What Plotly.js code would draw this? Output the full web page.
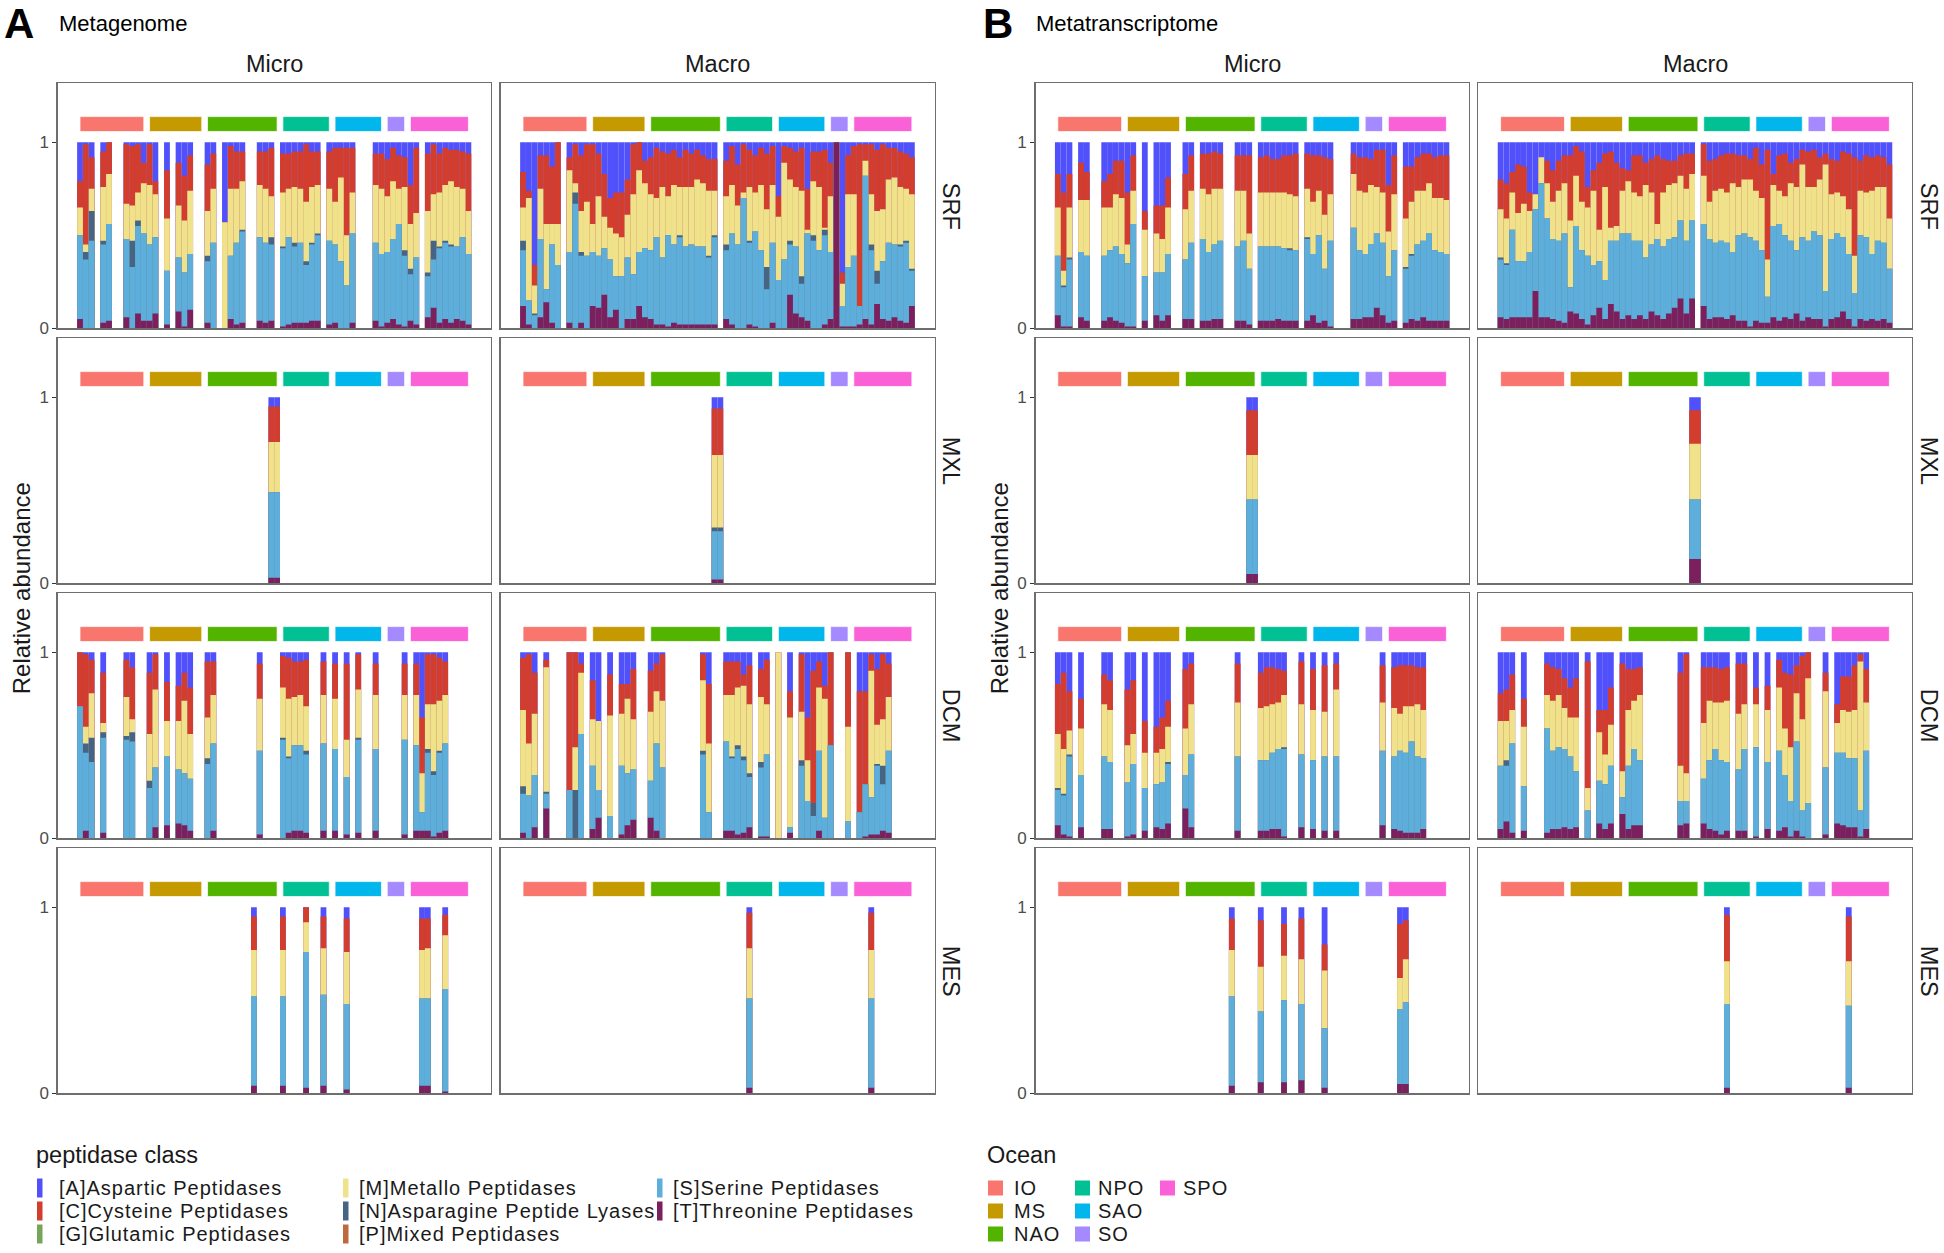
<!DOCTYPE html>
<html><head><meta charset="utf-8">
<script src="https://cdn.plot.ly/plotly-3.0.1.min.js"></script>
<style>html,body{margin:0;padding:0;background:#fff}#chart{width:1944px;height:1253px}</style>
</head><body><div id="chart"></div>
<script>
// ---------- categories ----------
const classNames = ['[A]Aspartic Peptidases','[C]Cysteine Peptidases','[G]Glutamic Peptidases','[M]Metallo Peptidases','[N]Asparagine Peptide Lyases','[P]Mixed Peptidases','[S]Serine Peptidases','[T]Threonine Peptidases'];
const classColors = ['#5151fb','#d23d2d','#77a45b','#efe28b','#466585','#be683e','#5eaedc','#7b1f5d'];
const oceanNames = ['IO','MS','NAO','NPO','SAO','SO','SPO'];
const oceanColors = ['#F8766D','#C49A00','#53B400','#00C094','#00B6EB','#A58AFF','#FB61D7'];
const oceanStart = [0,12,22,35,44,53,57];
const oceanEnd   = [11,21,34,43,52,56,67];
const sizeFractions = ['Micro','Macro'];
const layers = ['SRF','MXL','DCM','MES'];
const yTickVals = [0,1];
const yTickText = ['0','1'];

// Values are cumulative relative abundance (top of T, S, N, M, C; A tops at 1), per sample slot
// ---------- A Metagenome, Micro ----------
const mgMiSRF_x = [0,1,2,4,5,8,9,10,11,12,13,15,17,18,19,22,23,25,26,27,28,31,32,33,35,36,37,38,39,40,41,43,44,45,46,47,51,52,53,54,55,56,57,58,60,61,62,63,64,65,66,67];
const mgMiSRF_C = [.79,.99,.92,.95,1,.99,.98,.99,.89,.99,.79,.85,.89,.82,.93,.88,.94,.57,.98,.95,.95,.95,.95,.97,.94,.94,.95,.95,.99,.95,.95,.95,.97,.97,.97,.97,.94,.94,.91,.97,.93,.92,.77,.97,.94,.99,.94,.97,.96,.96,.95,.94];
const mgMiSRF_M = [.65,.45,.75,.76,.83,.67,.66,.73,.78,.77,.72,.59,.66,.58,.74,.63,.75,.57,.75,.75,.79,.77,.75,.71,.73,.75,.76,.75,.68,.76,.77,.75,.68,.81,.50,.73,.77,.75,.71,.79,.75,.76,.56,.62,.63,.72,.73,.77,.79,.76,.75,.63];
const mgMiSRF_N = [.50,.41,.63,.47,.56,.48,.47,.58,.51,.45,.49,.31,.38,.30,.40,.39,.46,0,.39,.46,.53,.49,.46,.49,.44,.49,.46,.46,.36,.46,.51,.47,.45,.36,.23,.51,.46,.40,.41,.48,.56,.42,.32,.38,.30,.47,.44,.47,.45,.44,.49,.40];
const mgMiSRF_S = [.50,.37,.47,.45,.56,.48,.33,.55,.51,.45,.49,.31,.38,.30,.40,.36,.46,0,.39,.46,.52,.49,.46,.45,.43,.49,.44,.46,.34,.45,.50,.47,.45,.36,.23,.51,.46,.40,.41,.48,.56,.39,.29,.38,.28,.37,.43,.46,.44,.44,.49,.40];
const mgMiSRF_T = [.05,0,0,.03,.04,.06,0,.08,.04,.04,.08,.02,.09,.01,.10,.03,0,0,.05,.02,.03,.04,.03,.04,.01,.02,.03,.03,.03,.04,.04,.02,.03,0,0,.03,.04,.01,.03,.05,.02,.01,.04,.02,.06,.11,.03,.05,.03,.05,.04,.02];

const mgMiMXL_x = [33,34];
const mgMiMXL_C = [.95,.95]; const mgMiMXL_M = [.76,.76]; const mgMiMXL_N = [.49,.49]; const mgMiMXL_S = [.49,.49]; const mgMiMXL_T = [.03,.03];

const mgMiDCM_x = [0,1,2,4,8,9,12,13,15,17,18,19,22,23,31,35,36,37,38,39,42,44,46,48,51,56,58,59,60,61,62,63];
const mgMiDCM_C = [1,.99,.96,.89,.96,.92,.89,.99,.84,.82,.89,.81,.95,.95,.94,.98,.97,.95,.95,.96,.95,.94,.94,.99,.94,.94,.94,.65,.99,.99,.97,.95];
const mgMiDCM_M = [.71,.60,.78,.62,.76,.64,.56,.80,.63,.63,.74,.56,.65,.77,.75,.81,.75,.76,.77,.71,.77,.75,.53,.80,.77,.77,.77,.35,.72,.72,.74,.77];
const mgMiDCM_N = [.71,.51,.54,.57,.55,.57,.31,.38,.44,.37,.35,.32,.43,.51,.47,.54,.44,.50,.50,.47,.51,.48,.33,.54,.48,.53,.50,.14,.48,.36,.47,.51];
const mgMiDCM_S = [.71,.46,.41,.54,.53,.52,.27,.38,.44,.37,.35,.32,.40,.51,.47,.53,.43,.50,.50,.45,.51,.48,.33,.53,.48,.53,.50,.14,.46,.34,.46,.51];
const mgMiDCM_T = [0,.04,0,.03,0,0,0,.06,.07,.08,.07,.04,0,.04,.02,0,.03,.04,.04,.03,.04,.04,.02,.03,.04,.02,.04,.04,.04,.01,.03,.04];

const mgMiMES_x = [30,35,39,42,46,59,60,63];
const mgMiMES_C = [.95,.95,1,.95,.94,.94,.94,.96];
const mgMiMES_M = [.77,.77,.92,.78,.76,.77,.78,.85];
const mgMiMES_N = [.52,.52,.76,.53,.48,.51,.51,.56];
const mgMiMES_S = [.52,.52,.76,.53,.48,.51,.51,.56];
const mgMiMES_T = [.04,.04,.03,.04,.02,.04,.04,.01];

// ---------- A Metagenome, Macro ----------
const mgMaSRF_x = [0,1,2,3,4,5,6,8,9,10,11,12,13,14,15,16,17,18,19,20,21,22,23,24,25,26,27,28,29,30,31,32,33,35,36,37,38,39,40,41,42,43,44,45,46,47,48,49,50,51,52,53,54,55,56,57,58,59,60,61,62,63,64,65,66,67];
const mgMaSRF_C = [.84,.74,.34,.93,.93,.87,1, .92,.99,.93,.99,.99,.94,.83,.70,.73,.73,.80,.99,1,.90,.92,.97,.95,.94,.96,.92,.96,.94,.96,.93,.91,.91, .90,.98,.88,.99,.96,.93,.97,.94,.98,.71,.98,.97,.95,.97,.75,.95,.95,.96,.89,1,.30,.93,.98,.99,.99,.99,.96,.99,.97,.97,.95,.94,.92];
const mgMaSRF_M = [.65,.70,.23,.75,.56,.56,.56, .85,.78,.63,.68,.56,.71,.60,.54,.51,.49,.61,.72,.85,.78,.72,.70,.76,.71,.77,.76,.76,.76,.80,.78,.74,.74, .71,.77,.66,.73,.76,.73,.77,.64,.77,.60,.89,.80,.76,.74,.53,.79,.76,.54,.71,1,.24,.72,.72,.12,.90,.72,.63,.64,.80,.81,.76,.75,.72];
const mgMaSRF_N = [.47,.15,.08,.48,.21,.45,.34, .41,.73,.41,.39,.41,.39,.43,.37,.28,.28,.38,.29,.41,.43,.42,.49,.38,.50,.45,.50,.44,.45,.44,.44,.39,.50, .45,.51,.45,.70,.47,.52,.42,.33,.46,.26,.37,.47,.44,.28,.51,.50,.42,.53,.41,1,.12,.33,.39,.12,.82,.45,.31,.36,.46,.45,.45,.47,.32];
const mgMaSRF_S = [.42,.15,.07,.48,.21,.45,.34, .41,.67,.39,.39,.41,.39,.43,.37,.28,.28,.38,.29,.41,.43,.42,.49,.38,.50,.45,.49,.44,.45,.44,.44,.38,.49, .42,.51,.45,.70,.46,.52,.42,.21,.46,.26,.37,.45,.44,.24,.51,.47,.42,.50,.41,1,.12,.33,.39,.12,.82,.42,.24,.36,.46,.45,.44,.46,.31];
const mgMaSRF_T = [.12,.02,0,.06,.14,.03,0, .03,0,.03,0,.12,.11,.18,.06,.10,0,.05,.05,.12,.06,.05,.02,.02,.01,.03,.02,.02,.02,.02,.02,.02,.02, .05,.02,0,0,.02,.01,0,0,.03,0,0,.18,.08,.06,.04,0,0,.02,.05,1,.01,.01,.01,.02,.05,.02,.13,.05,.04,.06,.04,.03,.12];

const mgMaMXL_x = [33,34];
const mgMaMXL_C = [.94,.94]; const mgMaMXL_M = [.69,.69]; const mgMaMXL_N = [.30,.30]; const mgMaMXL_S = [.28,.28]; const mgMaMXL_T = [.02,.02];

const mgMaDCM_x = [0,1,2,4,8,9,10,12,13,15,17,18,19,22,23,24,31,32,35,36,37,38,39,41,42,44,46,48,49,50,51,52,53,56,58,59,60,61,62,63];
const mgMaDCM_C = [.97,.99,.89,.96,1,1,.94,.85,.63,.88,.83,.83,.91,.90,.94,.99,.99,.83,.95,.95,.95,.88,.93,.91,.96,1,.79,.99,.65,.90,.95,.82,1,1,.79,.79,.99,.91,.99,.94];
const mgMaDCM_M = [.69,.51,.67,.92,.26,.49,.89,.64,.63,.66,.67,.75,.64,.68,.79,.74,.85,.51,.77,.77,.81,.82,.72,.76,.72,1,.65,.68,.42,.19,.81,.75,.50,.60,.14,.29,.90,.61,.64,.76];
const mgMaDCM_N = [.28,.23,.34,.25,.26,.26,.56,.39,.26,.12,.39,.35,.37,.31,.51,.38,.47,.14,.52,.44,.50,.44,.35,.41,.45,0,.06,.42,.20,.19,.47,.11,.50,.09,.14,.29,.22,.40,.39,.47];
const mgMaDCM_S = [.24,.23,.34,.24,.26,0,.56,.39,.26,.12,.39,.35,.37,.31,.51,.38,.45,.14,.52,.43,.48,.42,.33,.38,.45,0,.06,.39,.20,.12,.47,.11,.50,.09,.14,.29,.22,.39,.29,.47];
const mgMaDCM_T = [.03,0,.06,.16,0,0,0,.05,.11,0,.02,.07,.10,.11,.04,0,0,0,.04,.04,.02,.03,.06,.01,.01,0,.03,0,0,0,.04,0,0,0,0,.01,.02,.02,.04,.03];

const mgMaMES_x = [39,60];
const mgMaMES_C = [.97,.97]; const mgMaMES_M = [.78,.77]; const mgMaMES_N = [.51,.51]; const mgMaMES_S = [.51,.51]; const mgMaMES_T = [.03,.03];

// ---------- B Metatranscriptome, Micro ----------
const mtMiSRF_x = [0,1,2,4,5,8,9,10,11,12,13,15,17,18,19,22,23,25,26,27,28,31,32,33,35,36,37,38,39,40,41,43,44,45,46,47,51,52,53,54,55,56,57,58,60,61,62,63,64,65,66,67];
const mtMiSRF_C = [.83,.73,.83,.89,.84,.79,.83,.90,.90,.73,.93,.63,.66,.66,.81,.83,.93,.94,.94,.95,.94,.93,.93,.93,.92,.93,.91,.91,.93,.93,.94,.94,.93,.93,.92,.91,.94,.92,.92,.91,.96,.96,.77,.93,.87,.87,.92,.94,.94,.92,.93,.93];
const mtMiSRF_M = [.65,.31,.65,.69,.69,.65,.65,.72,.70,.45,.74,.53,.51,.48,.65,.64,.74,.75,.72,.75,.75,.74,.74,.51,.73,.73,.73,.73,.73,.72,.71,.75,.68,.74,.61,.72,.83,.74,.73,.77,.76,.73,.52,.72,.59,.68,.74,.74,.78,.70,.70,.69];
const mtMiSRF_N = [.39,.23,.38,.41,.39,.39,.42,.44,.40,.35,.56,.28,.30,.30,.40,.37,.46,.48,.41,.45,.47,.44,.47,.32,.44,.44,.44,.44,.43,.43,.42,.49,.40,.50,.32,.47,.54,.42,.40,.45,.51,.46,.28,.42,.33,.40,.45,.47,.51,.42,.41,.40];
const mtMiSRF_S = [.39,.22,.37,.41,.39,.39,.42,.44,.40,.35,.56,.28,.30,.30,.40,.37,.46,.48,.41,.45,.47,.44,.47,.32,.44,.44,.44,.44,.43,.42,.42,.48,.40,.50,.32,.47,.54,.42,.40,.45,.51,.46,.28,.42,.32,.39,.45,.47,.51,.42,.41,.40];
const mtMiSRF_T = [.07,.01,.01,.06,.04,.04,.06,.04,.03,.01,.01,.04,.07,.04,.07,.05,.05,.04,.04,.05,.05,.04,.04,.02,.04,.04,.04,.05,.04,.04,.04,.04,.07,.03,.04,.01,.05,.05,.06,.06,.11,.07,.03,.04,.03,.05,.04,.06,.04,.04,.04,.04];

const mtMiMXL_x = [33,34];
const mtMiMXL_C = [.93,.93]; const mtMiMXL_M = [.69,.69]; const mtMiMXL_N = [.45,.45]; const mtMiMXL_S = [.45,.45]; const mtMiMXL_T = [.05,.05];

const mtMiDCM_x = [0,1,2,4,8,9,12,13,15,17,18,19,22,23,31,35,36,37,38,39,42,44,46,48,56,58,59,60,61,62,63];
const mtMiDCM_C = [.83,.89,.79,.75,.88,.85,.80,.85,.63,.60,.65,.74,.91,.94,.94,.89,.92,.92,.91,.90,.95,.91,.93,.94,.93,.92,.93,.93,.93,.92,.92];
const mtMiDCM_M = [.56,.48,.58,.59,.72,.69,.50,.56,.46,.46,.48,.60,.59,.72,.73,.70,.71,.72,.73,.77,.72,.69,.68,.80,.73,.70,.67,.71,.71,.72,.69];
const mtMiDCM_N = [.27,.24,.45,.34,.44,.41,.30,.40,.27,.29,.30,.41,.34,.45,.44,.42,.42,.46,.48,.49,.45,.42,.44,.44,.47,.44,.47,.46,.52,.44,.43];
const mtMiDCM_S = [.26,.23,.44,.34,.44,.41,.30,.40,.27,.29,.30,.40,.34,.45,.44,.42,.42,.46,.48,.48,.45,.42,.44,.44,.47,.44,.47,.46,.52,.44,.43];
const mtMiDCM_T = [.07,.02,.01,.06,.05,.05,.01,.02,.04,.06,.05,.08,.16,.06,.04,.04,.04,.05,.05,.01,.06,.05,.04,.04,.07,.05,.04,.03,.03,.03,.05];

const mtMiMES_x = [30,35,39,42,46,59,60];
const mtMiMES_C = [.94,.93,.91,.94,.80,.91,.93];
const mtMiMES_M = [.77,.68,.74,.72,.66,.62,.72];
const mtMiMES_N = [.52,.44,.50,.48,.35,.45,.49];
const mtMiMES_S = [.52,.44,.50,.48,.35,.45,.49];
const mtMiMES_T = [.04,.06,.06,.07,.03,.05,.05];

// ---------- B Metatranscriptome, Macro ----------
const mtMaSRF_x = [0,1,2,3,4,5,6,7,8,9,10,11,12,13,14,15,16,17,18,19,20,21,22,23,24,25,26,27,28,29,30,31,32,33,35,36,37,38,39,40,41,42,43,44,45,46,47,48,49,50,51,52,53,54,55,56,57,58,59,60,61,62,63,64,65,66,67];
const mtMaSRF_C = [.80,.78,.84,.88,.87,.73,.72,.92,.90,.85,.90,.93,.93,.98,.95,.76,.85,.89,.94,.95,.89,.86,.85,.93,.93,.89,.91,.93,.91,.90,.90,.93,.94,.94, .99,.90,.91,.93,.94,.94,.93,.93,.91,.97,.88,.96,.83,.93,.94,.89,.91,.96,.95,.96,.92,.94,.91,.90,.95,.94,.92,.90,.93,.92,.93,.92,.88];
const mtMaSRF_M = [.64,.59,.73,.62,.67,.63,.72,.92,.78,.68,.74,.78,.58,.82,.68,.65,.74,.53,.76,.54,.55,.74,.79,.73,.71,.77,.73,.56,.73,.77,.78,.82,.75,.83, .82,.68,.74,.75,.73,.78,.76,.80,.80,.74,.70,.37,.77,.74,.71,.78,.76,.88,.76,.76,.80,.88,.72,.73,.71,.64,.39,.74,.73,.74,.76,.76,.59];
const mtMaSRF_N = [.38,.35,.53,.36,.36,.41,.64,.78,.59,.48,.47,.51,.22,.55,.42,.39,.34,.36,.26,.47,.47,.51,.51,.47,.47,.38,.45,.48,.44,.48,.49,.58,.47,.58, .56,.48,.46,.47,.46,.41,.50,.51,.49,.47,.42,.17,.55,.56,.50,.47,.42,.49,.47,.52,.50,.20,.48,.51,.49,.40,.19,.50,.49,.40,.47,.46,.32];
const mtMaSRF_S = [.37,.34,.53,.36,.36,.41,.64,.78,.59,.48,.47,.51,.22,.55,.42,.39,.34,.36,.26,.47,.47,.51,.51,.47,.47,.38,.45,.48,.44,.48,.49,.58,.47,.58, .56,.48,.46,.47,.46,.41,.50,.51,.49,.47,.42,.17,.55,.56,.50,.47,.42,.49,.47,.52,.50,.20,.48,.51,.49,.40,.19,.50,.49,.40,.47,.46,.32];
const mtMaSRF_T = [.06,.05,.06,.06,.06,.06,.20,.06,.06,.05,.04,.03,.09,.08,.05,.02,.07,.11,.05,.13,.09,.05,.07,.05,.07,.05,.09,.07,.05,.08,.11,.16,.08,.16, .12,.05,.06,.06,.05,.07,.04,.04,.01,.04,.03,.03,.06,.04,.06,.05,.08,.04,.06,.05,.05,.01,.05,.06,.09,.05,.01,.05,.04,.05,.04,.05,.03];

const mtMaMXL_x = [33,34];
const mtMaMXL_C = [.93,.93]; const mtMaMXL_M = [.75,.75]; const mtMaMXL_N = [.45,.45]; const mtMaMXL_S = [.45,.45]; const mtMaMXL_T = [.13,.13];

const mtMaDCM_x = [0,1,2,4,8,9,10,11,12,13,15,17,18,19,21,22,23,24,31,32,35,36,37,38,39,41,42,44,46,48,49,50,51,52,53,56,58,59,60,61,62,63];
const mtMaDCM_C = [.78,.80,.88,.75,.94,.92,.91,.86,.81,.86,.95,.69,.69,.81,.94,.91,.91,.92,.89,.99,.92,.92,.92,.91,.92,.94,.94,.81,.82,.96,.89,.88,.93,.98,1,.89,.72,.87,.87,.93,.99,.91];
const mtMaDCM_M = [.63,.63,.69,.60,.77,.74,.77,.70,.65,.65,.27,.57,.45,.61,.36,.69,.74,.77,.39,.35,.62,.74,.73,.73,.74,.67,.72,.72,.69,.81,.59,.49,.78,.64,.86,.79,.62,.69,.68,.69,.95,.73];
const mtMaDCM_N = [.39,.42,.51,.28,.59,.47,.49,.48,.44,.36,.15,.31,.29,.39,.22,.39,.48,.42,.20,.20,.32,.42,.48,.42,.41,.37,.48,.49,.41,.47,.34,.20,.52,.15,.19,.38,.46,.46,.43,.43,.15,.47];
const mtMaDCM_S = [.39,.39,.51,.28,.59,.47,.49,.48,.44,.36,.15,.31,.29,.39,.22,.39,.48,.42,.20,.20,.32,.42,.48,.42,.41,.37,.48,.49,.41,.47,.34,.20,.52,.15,.19,.38,.46,.46,.43,.43,.15,.47];
const mtMaDCM_T = [.05,.09,.03,.04,.03,.05,.05,.06,.05,.06,0,.08,.05,.08,.13,.05,.07,.07,.07,.08,.08,.05,.04,.02,.04,.04,.04,.01,.05,.04,.06,.01,.04,.01,0,.02,.08,.07,.06,.06,.01,.05];

const mtMaMES_x = [39,60];
const mtMaMES_C = [.96,.95]; const mtMaMES_M = [.71,.71]; const mtMaMES_N = [.48,.47]; const mtMaMES_S = [.48,.47]; const mtMaMES_T = [.03,.03];

// ---------- table of panels: [half, col, row, x, C, M, N, S, T] ----------
const panels = [
 [0,0,0,mgMiSRF_x,mgMiSRF_C,mgMiSRF_M,mgMiSRF_N,mgMiSRF_S,mgMiSRF_T],
 [0,0,1,mgMiMXL_x,mgMiMXL_C,mgMiMXL_M,mgMiMXL_N,mgMiMXL_S,mgMiMXL_T],
 [0,0,2,mgMiDCM_x,mgMiDCM_C,mgMiDCM_M,mgMiDCM_N,mgMiDCM_S,mgMiDCM_T],
 [0,0,3,mgMiMES_x,mgMiMES_C,mgMiMES_M,mgMiMES_N,mgMiMES_S,mgMiMES_T],
 [0,1,0,mgMaSRF_x,mgMaSRF_C,mgMaSRF_M,mgMaSRF_N,mgMaSRF_S,mgMaSRF_T],
 [0,1,1,mgMaMXL_x,mgMaMXL_C,mgMaMXL_M,mgMaMXL_N,mgMaMXL_S,mgMaMXL_T],
 [0,1,2,mgMaDCM_x,mgMaDCM_C,mgMaDCM_M,mgMaDCM_N,mgMaDCM_S,mgMaDCM_T],
 [0,1,3,mgMaMES_x,mgMaMES_C,mgMaMES_M,mgMaMES_N,mgMaMES_S,mgMaMES_T],
 [1,0,0,mtMiSRF_x,mtMiSRF_C,mtMiSRF_M,mtMiSRF_N,mtMiSRF_S,mtMiSRF_T],
 [1,0,1,mtMiMXL_x,mtMiMXL_C,mtMiMXL_M,mtMiMXL_N,mtMiMXL_S,mtMiMXL_T],
 [1,0,2,mtMiDCM_x,mtMiDCM_C,mtMiDCM_M,mtMiDCM_N,mtMiDCM_S,mtMiDCM_T],
 [1,0,3,mtMiMES_x,mtMiMES_C,mtMiMES_M,mtMiMES_N,mtMiMES_S,mtMiMES_T],
 [1,1,0,mtMaSRF_x,mtMaSRF_C,mtMaSRF_M,mtMaSRF_N,mtMaSRF_S,mtMaSRF_T],
 [1,1,1,mtMaMXL_x,mtMaMXL_C,mtMaMXL_M,mtMaMXL_N,mtMaMXL_S,mtMaMXL_T],
 [1,1,2,mtMaDCM_x,mtMaDCM_C,mtMaDCM_M,mtMaDCM_N,mtMaDCM_S,mtMaDCM_T],
 [1,1,3,mtMaMES_x,mtMaMES_C,mtMaMES_M,mtMaMES_N,mtMaMES_S,mtMaMES_T]
];

// ---------- layout geometry (pixels) ----------
const W = 1944, H = 1253;
const colPx = [[57.7,491],[500.7,934.5],[1035.5,1469],[1478.3,1912]];
const rowPx = [[83.3,328.3],[338.3,583.3],[593.3,838.3],[848.3,1093.3]];
const px = v => v / W, py = v => 1 - v / H;
const FONT = 'Liberation Sans, Arial, Helvetica, sans-serif';

const traces = [];
const shapes = [];
const annotations = [];
const layout = {
  width: W, height: H, margin: {l:0, r:0, t:0, b:0},
  paper_bgcolor: '#fff', plot_bgcolor: '#fff',
  barmode: 'overlay', showlegend: false,
  font: {family: FONT, color: '#1a1a1a'}
};

panels.forEach((p, k) => {
  const [half, col, row, x, C, M, N, S, T] = p;
  const id = k + 1;
  const xa = 'x' + (id === 1 ? '' : id), ya = 'y' + (id === 1 ? '' : id);
  const cp = colPx[half*2 + col], rp = rowPx[row];
  layout['xaxis' + (id === 1 ? '' : id)] = {
    domain: [px(cp[0]), px(cp[1])], anchor: ya, range: [-3.85, 70.9],
    showticklabels: false, ticks: '', showgrid: false, zeroline: false,
    showline: true, mirror: true, linecolor: '#6e6e6e', linewidth: 1.3, fixedrange: true
  };
  layout['yaxis' + (id === 1 ? '' : id)] = {
    domain: [py(rp[1]), py(rp[0])], anchor: xa, range: [0, 1.317],
    tickvals: yTickVals, ticktext: yTickText,
    showticklabels: col === 0, ticks: col === 0 ? 'outside' : '', ticklen: 4, tickwidth: 1.2, tickcolor: '#333',
    tickfont: {size: 17, color: '#4d4d4d', family: FONT},
    showgrid: false, zeroline: false, showline: true, mirror: true, linecolor: '#6e6e6e', linewidth: 1.3, fixedrange: true
  };
  // cumulative layers, drawn back to front: A (total), C, M, N, S, T
  const layersCum = [x.map(() => 1), C, M, N, S, T];
  const colorIdx = [0, 1, 3, 4, 6, 7];
  layersCum.forEach((y, j) => {
    traces.push({
      type: 'bar', x: x, y: y, width: 1, xaxis: xa, yaxis: ya,
      name: classNames[colorIdx[j]],
      marker: {color: classColors[colorIdx[j]], line: {width: 0}, opacity: 1},
      hoverinfo: 'skip', showlegend: false
    });
  });
  // ocean annotation bars
  oceanNames.forEach((o, i) => {
    shapes.push({type: 'rect', xref: xa, yref: ya, x0: oceanStart[i], x1: oceanEnd[i], y0: 1.058, y1: 1.138,
      fillcolor: oceanColors[i], line: {color: 'rgba(255,255,255,0.7)', width: 1}});
  });
});

// strip labels
[0,1].forEach(half => {
  sizeFractions.forEach((s, col) => {
    const cp = colPx[half*2 + col];
    annotations.push({text: s, xref: 'paper', yref: 'paper', x: px((cp[0]+cp[1])/2), y: py(64),
      showarrow: false, xanchor: 'center', yanchor: 'middle', font: {size: 23.5, color: '#1a1a1a'}});
  });
  layers.forEach((l, row) => {
    const rp = rowPx[row];
    annotations.push({text: l, xref: 'paper', yref: 'paper', x: px(half ? 1929 : 951), y: py((rp[0]+rp[1])/2),
      showarrow: false, textangle: 90, xanchor: 'center', yanchor: 'middle', font: {size: 23.5, color: '#1a1a1a'}});
  });
  annotations.push({text: 'Relative abundance', xref: 'paper', yref: 'paper', x: px(half ? 999 : 21), y: py(588.3),
    showarrow: false, textangle: -90, xanchor: 'center', yanchor: 'middle', font: {size: 24, color: '#1a1a1a'}});
});
annotations.push({text: '<b>A</b>', xref:'paper', yref:'paper', x: px(19), y: py(23), showarrow:false, xanchor:'center', yanchor:'middle', font:{size:42, color:'#000'}});
annotations.push({text: 'Metagenome', xref:'paper', yref:'paper', x: px(57), y: py(24), showarrow:false, xanchor:'left', yanchor:'middle', font:{size:22, color:'#000'}});
annotations.push({text: '<b>B</b>', xref:'paper', yref:'paper', x: px(998), y: py(23), showarrow:false, xanchor:'center', yanchor:'middle', font:{size:42, color:'#000'}});
annotations.push({text: 'Metatranscriptome', xref:'paper', yref:'paper', x: px(1034), y: py(24), showarrow:false, xanchor:'left', yanchor:'middle', font:{size:22, color:'#000'}});

// legends
const legRowY = [1188, 1211, 1234];
const pepColKeyX = [37, 343, 657];
const pepColTextX = [57, 357, 671];
annotations.push({text: 'peptidase class', xref:'paper', yref:'paper', x: px(34), y: py(1155), showarrow:false, xanchor:'left', yanchor:'middle', font:{size:23.5, color:'#1a1a1a'}});
classNames.forEach((c, i) => {
  const colI = Math.floor(i / 3), rowI = i % 3;
  shapes.push({type:'rect', xref:'paper', yref:'paper', x0: px(pepColKeyX[colI]), x1: px(pepColKeyX[colI]+5.5),
    y0: py(legRowY[rowI]+9.5), y1: py(legRowY[rowI]-9.5), fillcolor: classColors[i], line:{width:0}});
  annotations.push({text: c, xref:'paper', yref:'paper', x: px(pepColTextX[colI]), y: py(legRowY[rowI]), showarrow:false,
    xanchor:'left', yanchor:'middle', align:'left', font:{size:20, color:'#1a1a1a'}});
});
const ocColKeyX = [988, 1075, 1160];
const ocColTextX = [1012, 1096, 1181];
annotations.push({text: 'Ocean', xref:'paper', yref:'paper', x: px(985), y: py(1155), showarrow:false, xanchor:'left', yanchor:'middle', font:{size:23.5, color:'#1a1a1a'}});
oceanNames.forEach((o, i) => {
  const colI = Math.floor(i / 3), rowI = i % 3;
  shapes.push({type:'rect', xref:'paper', yref:'paper', x0: px(ocColKeyX[colI]), x1: px(ocColKeyX[colI]+15),
    y0: py(legRowY[rowI]+7.5), y1: py(legRowY[rowI]-7.5), fillcolor: oceanColors[i], line:{width:0}});
  annotations.push({text: o, xref:'paper', yref:'paper', x: px(ocColTextX[colI]), y: py(legRowY[rowI]), showarrow:false,
    xanchor:'left', yanchor:'middle', align:'left', font:{size:20, color:'#1a1a1a'}});
});

layout.shapes = shapes;
layout.annotations = annotations;
Plotly.newPlot('chart', traces, layout, {displayModeBar: false, staticPlot: true}).then(gd => {
  // the reference legend lettering is set wide; widen the legend item text a little
  const legendTexts = new Set(classNames.concat(oceanNames));
  gd.querySelectorAll('.annotation-text').forEach(t => {
    if (legendTexts.has(t.textContent)) t.style.letterSpacing = '1px';
  });
});
</script>
</body></html>
